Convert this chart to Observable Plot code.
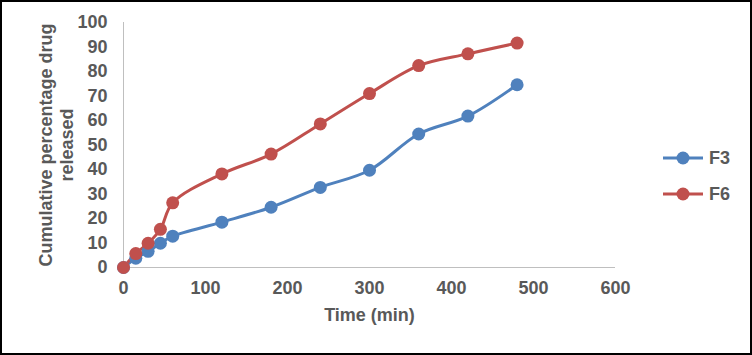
<!DOCTYPE html>
<html><head><meta charset="utf-8">
<script src="https://cdn.jsdelivr.net/npm/d3@7"></script>
<script src="https://cdn.jsdelivr.net/npm/@observablehq/plot@0.6"></script>
<style>
body{margin:0;background:#fff;}
#wrap{position:relative;width:752px;height:355px;}
#frame{position:absolute;left:0;top:0;width:752px;height:355px;box-sizing:border-box;border:2px solid #000;pointer-events:none;}
#chart{position:absolute;left:0;top:0;}
#legend{position:absolute;left:662px;top:147px;font:bold 18px "Liberation Sans",Arial,sans-serif;color:#595959;}
.item{display:flex;align-items:center;height:22px;margin-bottom:14px;}
.item span{margin-left:5px;}
</style></head>
<body><div id="wrap"><div id="chart"></div><div id="legend"></div><div id="frame"></div></div>
<script>
const times = [0, 15, 30, 45, 60, 120, 180, 240, 300, 360, 420, 480];
const F3 = [0, 3.8, 6.6, 9.9, 12.8, 18.5, 24.6, 32.7, 39.7, 54.5, 61.8, 74.6];
const F6 = [0, 5.7, 9.9, 15.6, 26.4, 38.2, 46.3, 58.6, 71.0, 82.4, 87.2, 91.6];
const seriesNames = ["F3", "F6"];
const seriesColors = ["#4F81BD", "#C0504D"];
const xTicks = [0, 100, 200, 300, 400, 500, 600];
const yTicks = [0, 10, 20, 30, 40, 50, 60, 70, 80, 90, 100];

const data = [];
[F3, F6].forEach((vals, s) => vals.forEach((v, i) => data.push({series: seriesNames[s], time: times[i], value: v})));

const font = '"Liberation Sans", Arial, sans-serif';
const plot = Plot.plot({
  width: 752, height: 355,
  marginLeft: 123, marginRight: 137, marginTop: 22, marginBottom: 88,
  style: {fontFamily: font, fontSize: "18px", fontWeight: "bold", color: "#595959", background: "transparent"},
  x: {domain: [0, 600]},
  y: {domain: [0, 100]},
  color: {domain: seriesNames, range: seriesColors},
  marks: [
    Plot.ruleY([0], {stroke: "#BFBFBF", strokeWidth: 1}),
    Plot.ruleX([0], {stroke: "#BFBFBF", strokeWidth: 1}),
    Plot.axisX({ticks: xTicks, tickSize: 0, tickPadding: 14, label: null, fill: "#595959"}),
    Plot.axisY({ticks: yTicks, tickSize: 0, tickPadding: 16, label: null, fill: "#595959"}),
    Plot.line(data, {x: "time", y: "value", z: "series", stroke: "series", strokeWidth: 3, curve: "catmull-rom"}),
    Plot.dot(data, {x: "time", y: "value", fill: "series", r: 6.5}),
    Plot.text(["Time (min)"], {frameAnchor: "bottom", dy: 53, fill: "#595959", fontSize: 18, fontWeight: "bold"}),
    Plot.text(["Cumulative percentage drug\nreleased"], {frameAnchor: "left", textAnchor: "middle", lineAnchor: "middle", dx: -68, rotate: -90, lineHeight: 1.2, fill: "#595959", fontSize: 18, fontWeight: "bold"})
  ]
});
document.getElementById("chart").appendChild(plot);

const leg = document.getElementById("legend");
seriesNames.forEach((n, i) => {
  const c = seriesColors[i];
  const d = document.createElement("div");
  d.className = "item";
  d.innerHTML = `<svg width="42" height="16"><line x1="1" x2="41" y1="8" y2="8" stroke="${c}" stroke-width="3"/><circle cx="21" cy="8" r="6.5" fill="${c}"/></svg><span>${n}</span>`;
  leg.appendChild(d);
});
</script></body></html>
